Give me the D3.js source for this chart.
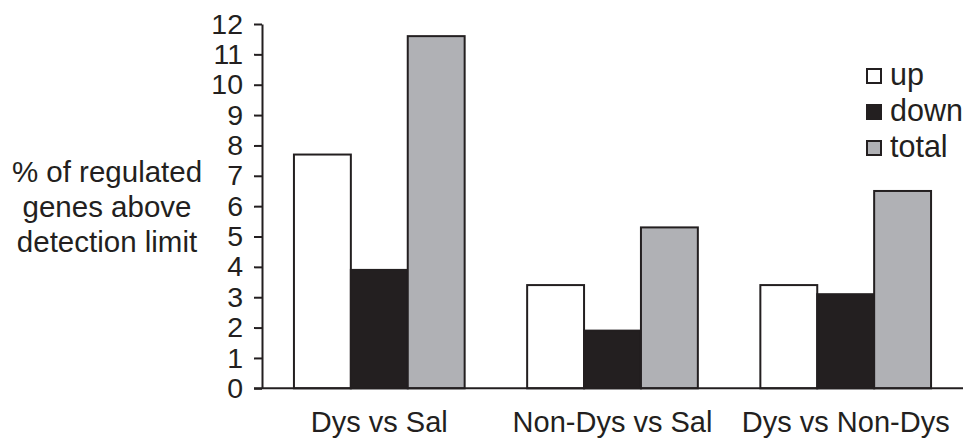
<!DOCTYPE html>
<html>
<head>
<meta charset="utf-8">
<script src="https://cdn.jsdelivr.net/npm/d3@7/dist/d3.min.js"></script>
<style>
  body { margin: 0; background: #fff; }
  svg { display: block; }
  text { font-family: "Liberation Sans", Arial, Helvetica, sans-serif; fill: #231f20; }
</style>
</head>
<body>
<svg id="chart" width="971" height="443"></svg>
<script>
const categories = ["Dys vs Sal", "Non-Dys vs Sal", "Dys vs Non-Dys"];
const seriesNames = ["up", "down", "total"];
const upValues = [7.7, 3.4, 3.4];
const downValues = [3.9, 1.9, 3.1];
const totalValues = [11.6, 5.3, 6.5];
const yTicks = [0,1,2,3,4,5,6,7,8,9,10,11,12];
const titleLines = ["% of regulated", "genes above", "detection limit"];

const colors = { up: "#ffffff", down: "#231f20", total: "#b0b1b5" };
const ink = "#231f20";
const seriesValues = { up: upValues, down: downValues, total: totalValues };

const svg = d3.select("#chart");
const x0 = 262, x1 = 963, yBase = 388.3, yTop = 24;

const x = d3.scaleBand().domain(categories).range([x0, x1])
  .paddingInner(0.268).paddingOuter(0.137);
const xs = d3.scaleBand().domain(seriesNames).range([0, x.bandwidth()]).padding(0);
const y = d3.scaleLinear().domain([0, 12]).range([yBase, yTop]);

// bars
const groups = svg.append("g").selectAll("g").data(categories).join("g")
  .attr("transform", d => `translate(${x(d)},0)`);
groups.selectAll("rect")
  .data((c, i) => seriesNames.map(s => ({ s, v: seriesValues[s][i] })))
  .join("rect")
  .attr("x", d => xs(d.s))
  .attr("width", xs.bandwidth())
  .attr("y", d => y(d.v))
  .attr("height", d => y(0) - y(d.v))
  .attr("fill", d => colors[d.s])
  .attr("stroke", ink)
  .attr("stroke-width", 2);

// y axis
const yAxis = d3.axisLeft(y).tickValues(yTicks).tickSize(8).tickSizeOuter(0).tickPadding(11);
const ga = svg.append("g").attr("transform", `translate(${x0},0)`).call(yAxis);
ga.select(".domain").attr("stroke", ink).attr("stroke-width", 2);
ga.selectAll(".tick line").attr("stroke", ink).attr("stroke-width", 2);
ga.selectAll(".tick text").attr("font-size", 28.5).attr("fill", ink)
  .style("font-family", '"Liberation Sans", Arial, sans-serif');

// baseline
svg.append("line").attr("x1", x0 - 8).attr("x2", x1).attr("y1", y(0)).attr("y2", y(0))
  .attr("stroke", ink).attr("stroke-width", 2);

// x labels
const xAxis = d3.axisBottom(x).tickSize(0).tickPadding(23);
const gx = svg.append("g").attr("transform", `translate(0,${yBase})`).call(xAxis);
gx.select(".domain").remove();
gx.selectAll(".tick text").attr("font-size", 29).attr("fill", ink)
  .style("font-family", '"Liberation Sans", Arial, sans-serif');

// y title
svg.append("g").selectAll("text").data(titleLines).join("text")
  .attr("x", 107).attr("y", (d, i) => 182 + i * 35)
  .attr("text-anchor", "middle").attr("font-size", 29.5).text(d => d);

// legend
const lg = svg.append("g").attr("transform", "translate(866,0)");
const rows = lg.selectAll("g").data(seriesNames).join("g")
  .attr("transform", (d, i) => `translate(0,${68 + i * 36})`);
rows.append("rect").attr("x", 1).attr("y", 1).attr("width", 14).attr("height", 14)
  .attr("fill", d => colors[d]).attr("stroke", ink).attr("stroke-width", 2);
rows.append("text").attr("x", 24).attr("y", 17).attr("font-size", 30.5).text(d => d);
</script>
</body>
</html>
